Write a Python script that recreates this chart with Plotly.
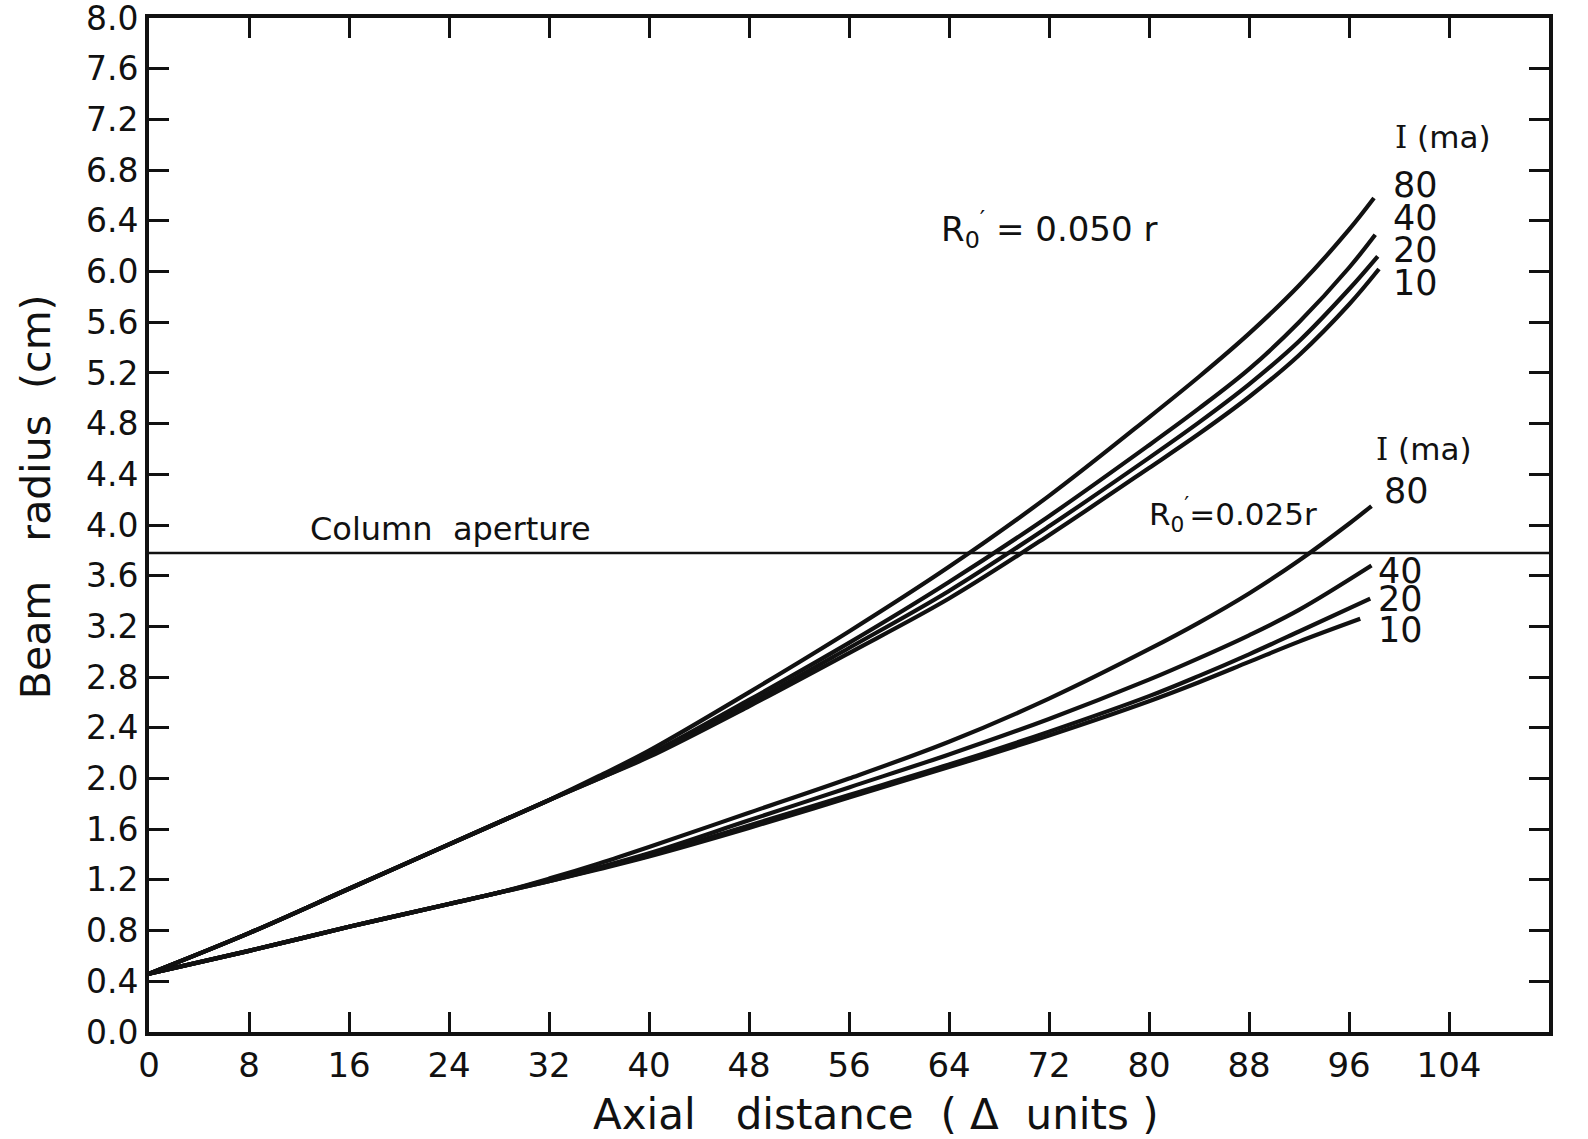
import plotly.graph_objects as go

# ---------------- data ----------------
# R0' = 0.050 r group (upper family)
x_up_80 = [0, 8, 16, 24, 32, 36, 40, 48, 56, 64, 72, 80, 84, 88, 92, 96, 98.0]
y_up_80 = [0.46, 0.78, 1.13, 1.48, 1.83, 2.02, 2.22, 2.68, 3.16, 3.67, 4.23, 4.85, 5.17, 5.51, 5.89, 6.33, 6.58]
x_up_40 = [0, 8, 16, 24, 32, 36, 40, 48, 56, 64, 72, 80, 84, 88, 92, 96, 98.1]
y_up_40 = [0.46, 0.78, 1.13, 1.48, 1.83, 2.01, 2.19, 2.62, 3.07, 3.55, 4.07, 4.63, 4.92, 5.23, 5.60, 6.03, 6.29]
x_up_20 = [0, 8, 16, 24, 32, 36, 40, 48, 56, 64, 72, 80, 84, 88, 92, 96, 98.3]
y_up_20 = [0.46, 0.78, 1.13, 1.48, 1.83, 2.00, 2.18, 2.59, 3.03, 3.48, 3.99, 4.53, 4.81, 5.11, 5.45, 5.86, 6.12]
x_up_10 = [0, 8, 16, 24, 32, 36, 40, 48, 56, 64, 72, 80, 84, 88, 92, 96, 98.4]
y_up_10 = [0.46, 0.78, 1.13, 1.48, 1.83, 2.00, 2.17, 2.57, 2.99, 3.42, 3.92, 4.45, 4.72, 5.01, 5.34, 5.74, 6.02]

# R0' = 0.025 r group (lower family)
x_lo_80 = [0, 8, 16, 24, 28, 32, 36, 40, 48, 56, 64, 72, 80, 84, 88, 92, 96, 97.8]
y_lo_80 = [0.46, 0.64, 0.83, 1.01, 1.10, 1.21, 1.33, 1.46, 1.73, 2.00, 2.29, 2.63, 3.02, 3.23, 3.46, 3.72, 4.01, 4.15]
x_lo_40 = [0, 8, 16, 24, 28, 32, 36, 40, 48, 56, 64, 72, 80, 84, 88, 92, 97.8]
y_lo_40 = [0.46, 0.64, 0.83, 1.01, 1.10, 1.20, 1.30, 1.41, 1.67, 1.93, 2.19, 2.47, 2.78, 2.95, 3.13, 3.33, 3.68]
x_lo_20 = [0, 8, 16, 24, 28, 32, 36, 40, 48, 56, 64, 72, 80, 84, 88, 92, 97.7]
y_lo_20 = [0.46, 0.64, 0.83, 1.01, 1.10, 1.19, 1.29, 1.39, 1.63, 1.87, 2.11, 2.37, 2.65, 2.81, 2.98, 3.16, 3.42]
x_lo_10 = [0, 8, 16, 24, 28, 32, 36, 40, 48, 56, 64, 72, 80, 84, 88, 92, 96.9]
y_lo_10 = [0.46, 0.64, 0.83, 1.01, 1.10, 1.19, 1.285, 1.385, 1.61, 1.85, 2.09, 2.34, 2.61, 2.76, 2.92, 3.08, 3.26]

column_aperture = 3.78

x_ticks = [0, 8, 16, 24, 32, 40, 48, 56, 64, 72, 80, 88, 96, 104]
y_ticks = [round(0.4 * i, 1) for i in range(21)]

FONT = "DejaVu Sans"
INK = "#111111"

fig = go.Figure()

series = [
    (x_up_80, y_up_80), (x_up_40, y_up_40), (x_up_20, y_up_20), (x_up_10, y_up_10),
    (x_lo_80, y_lo_80), (x_lo_40, y_lo_40), (x_lo_20, y_lo_20), (x_lo_10, y_lo_10),
]
for xs, ys in series:
    fig.add_trace(go.Scatter(x=xs, y=ys, mode="lines",
                             line=dict(color=INK, width=4.2, shape="spline", smoothing=1.0),
                             showlegend=False, hoverinfo="skip"))

# column aperture line
fig.add_trace(go.Scatter(x=[0, 112], y=[column_aperture, column_aperture], mode="lines",
                         line=dict(color=INK, width=2.5), showlegend=False, hoverinfo="skip"))

def ann(x, y, text, size=32, family=FONT):
    fig.add_annotation(x=x, y=y, xref="x", yref="y", text=text, showarrow=False,
                       font=dict(family=family, size=size, color=INK), xanchor="center",
                       yanchor="middle")

I_MA = '<span style="font-family:DejaVu Serif">I</span> (ma)'

ann(24.1, 3.97, "Column  aperture", size=32)
ann(72.0, 6.33, "R<sub>0</sub><sup>′</sup> = 0.050 r", size=34)
ann(103.5, 7.06, I_MA, size=31)
ann(101.3, 6.68, "80", size=35)
ann(101.3, 6.42, "40", size=35)
ann(101.3, 6.17, "20", size=35)
ann(101.3, 5.91, "10", size=35)
ann(86.7, 4.08, "R<sub>0</sub><sup>′</sup>=0.025r", size=31)
ann(102.0, 4.60, I_MA, size=31)
ann(100.6, 4.27, "80", size=35)
ann(100.1, 3.64, "40", size=35)
ann(100.1, 3.42, "20", size=35)
ann(100.1, 3.17, "10", size=35)

# axis titles as paper annotations
fig.add_annotation(x=0.519, y=-0.081, xref="paper", yref="paper",
                   text="Axial   distance  ( Δ  units )", showarrow=False,
                   font=dict(family=FONT, size=42, color=INK), yanchor="middle")
fig.add_annotation(x=-0.081, y=0.528, xref="paper", yref="paper",
                   text="Beam   radius  (cm)", showarrow=False, textangle=-90,
                   font=dict(family=FONT, size=41, color=INK), xanchor="center",
                   yanchor="middle")

axis_common = dict(showgrid=False, zeroline=False, showline=True, linecolor=INK,
                   linewidth=4, mirror="ticks", ticks="inside", ticklen=20,
                   tickwidth=3, tickcolor=INK, automargin=False,
                   ticklabeloverflow="allow")

fig.update_xaxes(range=[0, 112], tickvals=x_ticks, ticktext=[str(v) for v in x_ticks],
                 tickfont=dict(family=FONT, size=34, color=INK), **axis_common)
fig.update_yaxes(range=[0, 8.0005], tickvals=y_ticks, ticktext=[f"{v:.1f}" for v in y_ticks],
                 tickfont=dict(family=FONT, size=33, color=INK), **axis_common)

fig.update_layout(width=1588, height=1139, plot_bgcolor="white", paper_bgcolor="white",
                  margin=dict(l=149, r=39, t=18, b=107, autoexpand=False), showlegend=False)

fig.write_html("out.html")
